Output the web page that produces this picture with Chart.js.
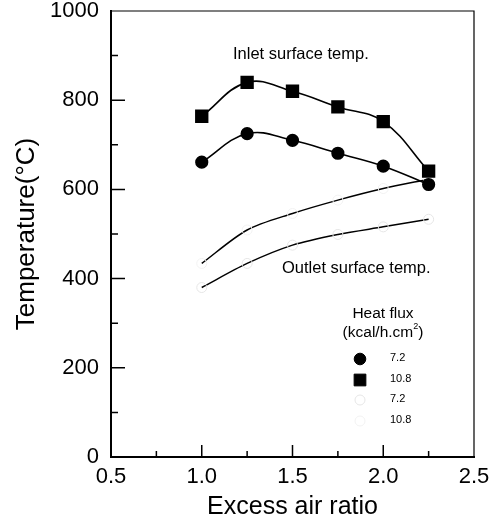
<!DOCTYPE html>
<html>
<head>
<meta charset="utf-8">
<script src="https://cdn.jsdelivr.net/npm/chart.js@4/dist/chart.umd.min.js"></script>
<style>
  html, body { margin: 0; padding: 0; background: #fff; }
  #wrap { width: 491px; height: 522px; }
</style>
</head>
<body>
<div id="wrap"><canvas id="c" width="491" height="522"></canvas></div>
<script>
// ---- data ----
const excessAir = [1.0, 1.25, 1.5, 1.75, 2.0, 2.25];
const inlet72  = [661, 725, 710, 681, 652, 611];
const inlet108 = [764, 840, 820, 785, 752, 641];
const outlet72  = [380, 434, 475, 499, 516, 533];
const outlet108 = [434, 509, 546, 576, 602, 623];
const xTicks = [0.5, 1.0, 1.5, 2.0, 2.5];
const yTicks = [0, 200, 400, 600, 800, 1000];
const legendLabels = ['7.2', '10.8', '7.2', '10.8'];

const FONT = "'Liberation Sans', Arial, sans-serif";

function pts(ys) { return excessAir.map((x, i) => ({x: x, y: ys[i]})); }

const datasets = [
  { label: '7.2', data: pts(inlet72), borderColor: '#000', backgroundColor: '#000',
    borderWidth: 1.6, pointStyle: 'circle', pointRadius: 5.8, tension: 0.4 },
  { label: '10.8', data: pts(inlet108), borderColor: '#000', backgroundColor: '#000',
    borderWidth: 1.6, pointStyle: 'rect', pointRadius: 8.3, tension: 0.4 },
  { label: '7.2', data: pts(outlet72), borderColor: '#000', backgroundColor: 'rgba(0,0,0,0)',
    borderWidth: 1.5, pointStyle: 'circle', pointRadius: 5, pointBorderColor: '#e6e6e6',
    pointBorderWidth: 1, tension: 0.3 },
  { label: '10.8', data: pts(outlet108), borderColor: '#000', backgroundColor: 'rgba(0,0,0,0)',
    borderWidth: 1.5, pointStyle: 'circle', pointRadius: 5, pointBorderColor: '#f2f2f2',
    pointBorderWidth: 1, tension: 0.3 }
];

const decor = {
  id: 'decor',
  afterDraw(chart) {
    const ctx = chart.ctx;
    const a = chart.chartArea;
    const xs = chart.scales.x, ys = chart.scales.y;
    ctx.save();
    // top/right frame
    ctx.strokeStyle = '#000';
    ctx.lineWidth = 1.2;
    ctx.beginPath();
    ctx.moveTo(a.left, a.top); ctx.lineTo(a.right, a.top); ctx.lineTo(a.right, a.bottom);
    ctx.stroke();
    // inward ticks
    ctx.lineWidth = 1.5;
    ctx.beginPath();
    for (let v = 0.75; v < 2.5; v += 0.25) {
      const px = xs.getPixelForValue(v);
      const major = Math.abs(v * 2 - Math.round(v * 2)) < 1e-6;
      const len = major ? 12 : 6;
      ctx.moveTo(px, a.bottom); ctx.lineTo(px, a.bottom - len);
    }
    for (let v = 100; v < 1000; v += 100) {
      const py = ys.getPixelForValue(v);
      const major = v % 200 === 0;
      const len = major ? 14 : 7;
      ctx.moveTo(a.left, py); ctx.lineTo(a.left + len, py);
    }
    ctx.stroke();

    // annotations
    ctx.fillStyle = '#000';
    ctx.textBaseline = 'middle';
    ctx.textAlign = 'left';
    ctx.font = '16.5px ' + FONT;
    ctx.fillText('Inlet surface temp.', a.left + 122, a.top + 43);
    ctx.fillText('Outlet surface temp.', a.left + 171, a.top + 257);

    // legend
    ctx.font = '15.5px ' + FONT;
    ctx.textAlign = 'center';
    const lx = a.left + 272;
    ctx.fillText('Heat flux', lx, a.top + 303);
    const t1 = '(kcal/h.cm', t2 = ')';
    ctx.font = '15.5px ' + FONT;
    const w1 = ctx.measureText(t1).width;
    ctx.font = '9px ' + FONT;
    const ws = ctx.measureText('2').width;
    ctx.font = '15.5px ' + FONT;
    const w2 = ctx.measureText(t2).width;
    let sx = lx - (w1 + ws + w2) / 2;
    ctx.textAlign = 'left';
    ctx.fillText(t1, sx, a.top + 322);
    ctx.font = '9px ' + FONT;
    ctx.fillText('2', sx + w1, a.top + 316);
    ctx.font = '15.5px ' + FONT;
    ctx.fillText(t2, sx + w1 + ws, a.top + 322);

    const mx = a.left + 249;
    const rowY = [348, 369, 389, 410];
    ctx.font = '11px ' + FONT;
    chart.data.datasets.forEach((ds, i) => {
      const y = a.top + rowY[i];
      ctx.save();
      ctx.fillStyle = ds.backgroundColor;
      ctx.strokeStyle = ds.pointBorderColor || ds.borderColor;
      ctx.lineWidth = ds.pointBorderWidth || 1;
      Chart.helpers.drawPoint(ctx, { pointStyle: ds.pointStyle, radius: ds.pointRadius, rotation: 0, borderWidth: ctx.lineWidth }, mx, y);
      ctx.restore();
      ctx.fillStyle = '#000';
      ctx.textAlign = 'left';
      ctx.fillText(legendLabels[i], a.left + 279, y - 1);
    });
    ctx.restore();
  }
};

new Chart(document.getElementById('c'), {
  type: 'line',
  data: { datasets: datasets },
  options: {
    responsive: false,
    animation: false,
    events: [],
    layout: { padding: { left: 0, right: 17, top: 11, bottom: 0 } },
    plugins: { legend: { display: false }, tooltip: { enabled: false } },
    scales: {
      x: {
        type: 'linear', min: 0.5, max: 2.5,
        afterBuildTicks: s => { s.ticks = xTicks.map(v => ({ value: v })); },
        afterFit: s => { s.height = 65; s.paddingLeft = 0; s.paddingRight = 0; },
        ticks: { color: '#000', font: { family: FONT, size: 22 }, padding: 7,
                 maxRotation: 0, autoSkip: false, callback: v => v.toFixed(1) },
        grid: { display: true, drawOnChartArea: false, drawTicks: false },
        border: { display: true, color: '#000', width: 2 },
        title: { display: true, text: 'Excess air ratio', color: '#000',
                 font: { family: FONT, size: 25 }, padding: { top: 0, bottom: 0 } }
      },
      y: {
        type: 'linear', min: 0, max: 1000,
        afterBuildTicks: s => { s.ticks = yTicks.map(v => ({ value: v })); },
        afterFit: s => { s.width = 111; s.paddingTop = 0; s.paddingBottom = 0; },
        ticks: { color: '#000', font: { family: FONT, size: 22 }, padding: 12, autoSkip: false,
                 callback: v => String(v) },
        grid: { display: true, drawOnChartArea: false, drawTicks: false },
        border: { display: true, color: '#000', width: 2 },
        title: { display: true, text: 'Temperature(°C)', color: '#000',
                 font: { family: FONT, size: 26 }, padding: { top: 11, bottom: 0 } }
      }
    }
  },
  plugins: [decor]
});
</script>
</body>
</html>
